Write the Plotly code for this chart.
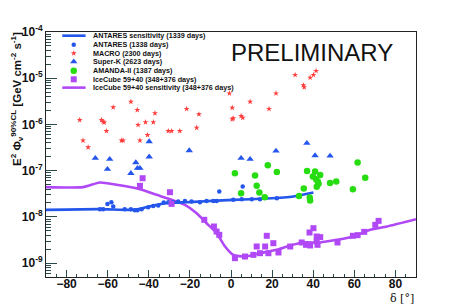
import plotly.graph_objects as go

# ---------------- data (declination in degrees, E^2 flux limit in GeV cm^-2 s^-1) -------------
antares_sens_dec = [-90, -63.8, -47.6, -42.7, -37.8, -31.4, -21.6, -15.1, 1.1, 17.4, 30.4, 40.1]
antares_sens_flux = [1.42e-8, 1.47e-8, 1.42e-8, 1.55e-8, 1.76e-8, 1.98e-8, 2.08e-8, 2.15e-8,
                     2.34e-8, 2.50e-8, 2.76e-8, 3.37e-8]

antares_dec = [-60.1, -58.2, -57.3, -5.7, 5.7, -63.8, -62.2, -51.7, -48.7, -46.8, -45.5, -43.5,
               -40.3, -37.8, -35.4, -32.7, -30.5, -28.1, -25.7, -22.4, -19.2, -15.1, -11.9, -8.6,
               -7.0, 1.1, 5.2, 10.1, 14.1, 22.3]
antares_flux = [1.91e-8, 2.08e-8, 1.68e-8, 3.54e-8, 4.54e-8, 1.47e-8, 1.47e-8, 1.47e-8, 1.47e-8,
                1.40e-8, 1.40e-8, 1.47e-8, 1.62e-8, 1.73e-8, 1.76e-8, 2.05e-8, 2.08e-8, 2.08e-8,
                2.15e-8, 2.22e-8, 2.15e-8, 2.08e-8, 2.22e-8, 2.22e-8, 2.22e-8, 2.34e-8, 2.42e-8,
                2.42e-8, 2.42e-8, 2.54e-8]

macro_dec = [-73.6, -72.0, -69.5, -63.0, -62.2, -61.7, -60.6, -57.3, -53.3, -52.5, -48.7, -45.6,
             -45.2, -44.3, -41.6, -40.6, -37.8, -37.0, -30.5, -28.9, -24.9, -21.6, -16.7, -15.6,
             -0.8, 0.6, 0.6, 1.1, 4.9, 5.7, 9.3, 18.5, 21.9, 31.2, 35.2, 35.6, 38.5, 40.1, 41.4]
macro_flux = [1.25e-6, 4.5e-7, 3.2e-7, 1.25e-6, 1.15e-6, 1.1e-6, 7.2e-7, 2.35e-6, 4.5e-7, 4.5e-7,
              3.1e-6, 2.06e-6, 9.8e-7, 4.5e-7, 1.12e-6, 5.9e-7, 1.12e-6, 1.75e-6, 7.2e-7, 7.2e-7,
              7.2e-7, 2.17e-6, 8.5e-7, 1.66e-6, 4.7e-6, 2.3e-6, 1.3e-6, 1.36e-6, 1.53e-6, 1.4e-6,
              3.1e-6, 2.17e-6, 4.7e-6, 1.18e-5, 7.1e-6, 6.4e-6, 1.03e-5, 1.18e-5, 1.44e-5]

superk_dec = [-66.0, -60.1, -59.0, -48.7, -46.3, -45.5, -44.3, -39.8, -39.8, -20.3, 4.9, 9.3,
              21.9, 36.9, 40.9, 48.2]
superk_flux = [1.86e-7, 1.08e-7, 1.77e-7, 8.8e-8, 1.5e-7, 1.13e-7, 1.13e-7, 4.27e-7, 2.0e-7,
               2.72e-7, 1.86e-7, 1.77e-7, 2.67e-7, 3.93e-7, 2.12e-7, 2.08e-7]

amanda_dec = [1.9, 4.9, 11.7, 12.5, 13.8, 16.4, 17.9, 22.3, 33.1, 35.4, 37.0, 38.3, 38.5, 40.9,
              39.8, 41.4, 43.4, 42.2, 41.7, 42.6, 48.2, 51.2, 59.3, 61.6, 65.3]
amanda_flux = [8.8e-8, 3.26e-8, 7.85e-8, 4.7e-8, 3.37e-8, 2.67e-8, 1.31e-7, 9.4e-8, 2.85e-8,
               4.1e-8, 9.9e-8, 2.63e-8, 2.26e-8, 9.6e-8, 7.46e-8, 6.5e-8, 8.1e-8, 5.8e-8, 4.5e-8,
               5.2e-8, 5.4e-8, 5.8e-8, 3.97e-8, 1.5e-7, 7.0e-8]

icecube_dec = [-43.0, -44.3, -29.7, -28.9, -13.0, -8.3, -7.0, -5.7, 1.9, 6.8, 10.9, 12.5, 14.1,
               16.6, 17.4, 18.2, 20.6, 23.1, 28.8, 34.4, 36.5, 38.5, 38.2, 40.1, 41.7, 43.4, 42.1,
               41.7, 51.8, 59.3, 61.6, 64.8, 70.2, 71.8]
icecube_flux = [6.87e-8, 4.7e-8, 3.42e-8, 1.91e-8, 8.65e-9, 6.2e-9, 4.83e-9, 4.09e-9, 1.28e-9,
                1.39e-9, 1.51e-9, 2.29e-9, 1.64e-9, 2.29e-9, 3.9e-9, 1.64e-9, 2.7e-9, 1.7e-9,
                2.29e-9, 2.8e-9, 2.49e-9, 2.41e-9, 4.6e-9, 5.7e-9, 3.77e-9, 3.65e-9, 2.49e-9,
                2.94e-9, 2.8e-9, 3.9e-9, 4.03e-9, 4.75e-9, 6.74e-9, 8.2e-9]

icecube_sens_dec = [-90, -72.0, -63.8, -55.7, -44.3, -36.2, -29.7, -22.4, -16.7, -11.9, -7.0,
                    -2.9, 1.1, 6.8, 14.1, 22.3, 28.8, 35.3, 43.4, 51.5, 59.6, 67.7, 75.9, 90]
icecube_sens_flux = [4.4e-8, 4.4e-8, 5.55e-8, 4.94e-8, 3.97e-8, 3.0e-8, 2.42e-8, 1.82e-8,
                     1.2e-8, 7.3e-9, 4.45e-9, 2.29e-9, 1.51e-9, 1.39e-9, 1.64e-9, 1.94e-9,
                     2.41e-9, 2.8e-9, 2.8e-9, 3.19e-9, 3.77e-9, 5.25e-9, 6.2e-9, 8.9e-9]

x_ticks = [-80, -60, -40, -20, 0, 20, 40, 60, 80]
y_ticks = [1e-9, 1e-8, 1e-7, 1e-6, 1e-5, 1e-4]
y_ticktext = ["10<sup>-9</sup>", "10<sup>-8</sup>", "10<sup>-7</sup>", "10<sup>-6</sup>",
              "10<sup>-5</sup>", "10<sup>-4</sup>"]

legend_labels = ["ANTARES sensitivity (1339 days)", "ANTARES (1338 days)", "MACRO (2300 days)",
                 "Super-K (2623 days)", "AMANDA-II (1387 days)", "IceCube 59+40 (348+376 days)",
                 "IceCube 59+40 sensitivity (348+376 days)"]

# ---------------- styles ----------------
BLUE = "#2456ec"
RED = "#ff3d3d"
GREEN = "#27dc10"
PURPLE = "#b148f6"
FONT = "Liberation Sans"

fig = go.Figure()

fig.add_trace(go.Scatter(x=icecube_sens_dec, y=icecube_sens_flux, mode="lines",
                         line=dict(color=PURPLE, width=2.6, shape="spline", smoothing=0.6)))
fig.add_trace(go.Scatter(x=antares_dec, y=antares_flux, mode="markers",
                         marker=dict(color=BLUE, size=4.5, symbol="circle")))
fig.add_trace(go.Scatter(x=antares_sens_dec, y=antares_sens_flux, mode="lines",
                         line=dict(color=BLUE, width=2.6, shape="spline", smoothing=0.5)))
fig.add_trace(go.Scatter(x=macro_dec, y=macro_flux, mode="markers",
                         marker=dict(color=RED, size=4.5, symbol="star")))
fig.add_trace(go.Scatter(x=superk_dec, y=superk_flux, mode="markers",
                         marker=dict(color=BLUE, size=6.5, symbol="triangle-up")))
fig.add_trace(go.Scatter(x=amanda_dec, y=amanda_flux, mode="markers",
                         marker=dict(color=GREEN, size=6.5, symbol="circle")))
fig.add_trace(go.Scatter(x=icecube_dec, y=icecube_flux, mode="markers",
                         marker=dict(color=PURPLE, size=6, symbol="square")))

# ---------------- custom compact legend on an overlay axis (0..1) ----------------
row_y = [0.985, 0.948, 0.913, 0.879, 0.842, 0.807, 0.773]
line_x = [0.044, 0.107]
mark_x = 0.075
text_x = 0.122
legend_kinds = [("line", BLUE, None, 0), ("marker", BLUE, "circle", 4.5),
                ("marker", RED, "star", 4.5), ("marker", BLUE, "triangle-up", 6.5),
                ("marker", GREEN, "circle", 6.5), ("marker", PURPLE, "square", 6),
                ("line", PURPLE, None, 0)]
for ry, (kind, col, sym, sz), lab in zip(row_y, legend_kinds, legend_labels):
    if kind == "line":
        fig.add_trace(go.Scatter(x=line_x, y=[ry, ry], mode="lines", xaxis="x2", yaxis="y2",
                                 line=dict(color=col, width=2.6)))
    else:
        fig.add_trace(go.Scatter(x=[mark_x], y=[ry], mode="markers", xaxis="x2", yaxis="y2",
                                 marker=dict(color=col, size=sz, symbol=sym)))
    fig.add_annotation(x=text_x, y=ry, xref="x2", yref="y2", text=lab, showarrow=False,
                       xanchor="left", yanchor="middle",
                       font=dict(family=FONT, size=7.2, color="#111", weight="bold"))

fig.add_annotation(x=0.72, y=0.915, xref="paper", yref="paper", text="PRELIMINARY",
                   showarrow=False, xanchor="center", yanchor="middle",
                   font=dict(family=FONT, size=24, color="#111"))

fig.add_annotation(x=-0.08, y=1.01, xref="paper", yref="paper",
                   text="E<sup>2</sup> Φ<sub>ν</sub><sup>90%CL</sup> [GeV cm<sup>-2</sup> s<sup>-1</sup>]",
                   textangle=-90, showarrow=False, xanchor="center", yanchor="top",
                   font=dict(family=FONT, size=11.5, color="#111", weight="bold"))

fig.add_annotation(x=1.0, y=-0.088, xref="paper", yref="paper", text="δ [°]",
                   showarrow=False, xanchor="right", yanchor="middle",
                   font=dict(family="DejaVu Serif", size=11, color="#111"))

axis_common = dict(showgrid=False, zeroline=False, showline=True, mirror=True,
                   linecolor="#222", linewidth=1, ticks="inside", tickcolor="#2a4a4a",
                   automargin=False)

fig.update_layout(
    width=463, height=308,
    margin=dict(l=46, r=47, t=32, b=31, autoexpand=False),
    paper_bgcolor="white", plot_bgcolor="white",
    showlegend=False,
    xaxis=dict(range=[-90, 90], tickvals=x_ticks, ticklen=7,
               minor=dict(ticks="inside", ticklen=3.5, dtick=5, tick0=0, tickcolor="#2a4a4a"),
               tickfont=dict(family=FONT, size=12, color="#111", weight="bold"),
               ticklabelstandoff=-4,
               **axis_common),
    yaxis=dict(type="log", range=[-9.3, -4], tickvals=y_ticks, ticktext=y_ticktext, ticklen=11,
               minor=dict(ticks="inside", ticklen=5, dtick="D1", tickcolor="#2a4a4a"),
               tickfont=dict(family=FONT, size=12, color="#111", weight="bold"),
               ticklabelstandoff=0,
               **axis_common),
    xaxis2=dict(range=[0, 1], overlaying="x", anchor="y2", visible=False),
    yaxis2=dict(range=[0, 1], overlaying="y", anchor="x2", visible=False),
)

fig.write_html("out.html", config={"displayModeBar": False},
               post_script="document.body.style.margin='0';document.body.style.overflow='hidden';")
